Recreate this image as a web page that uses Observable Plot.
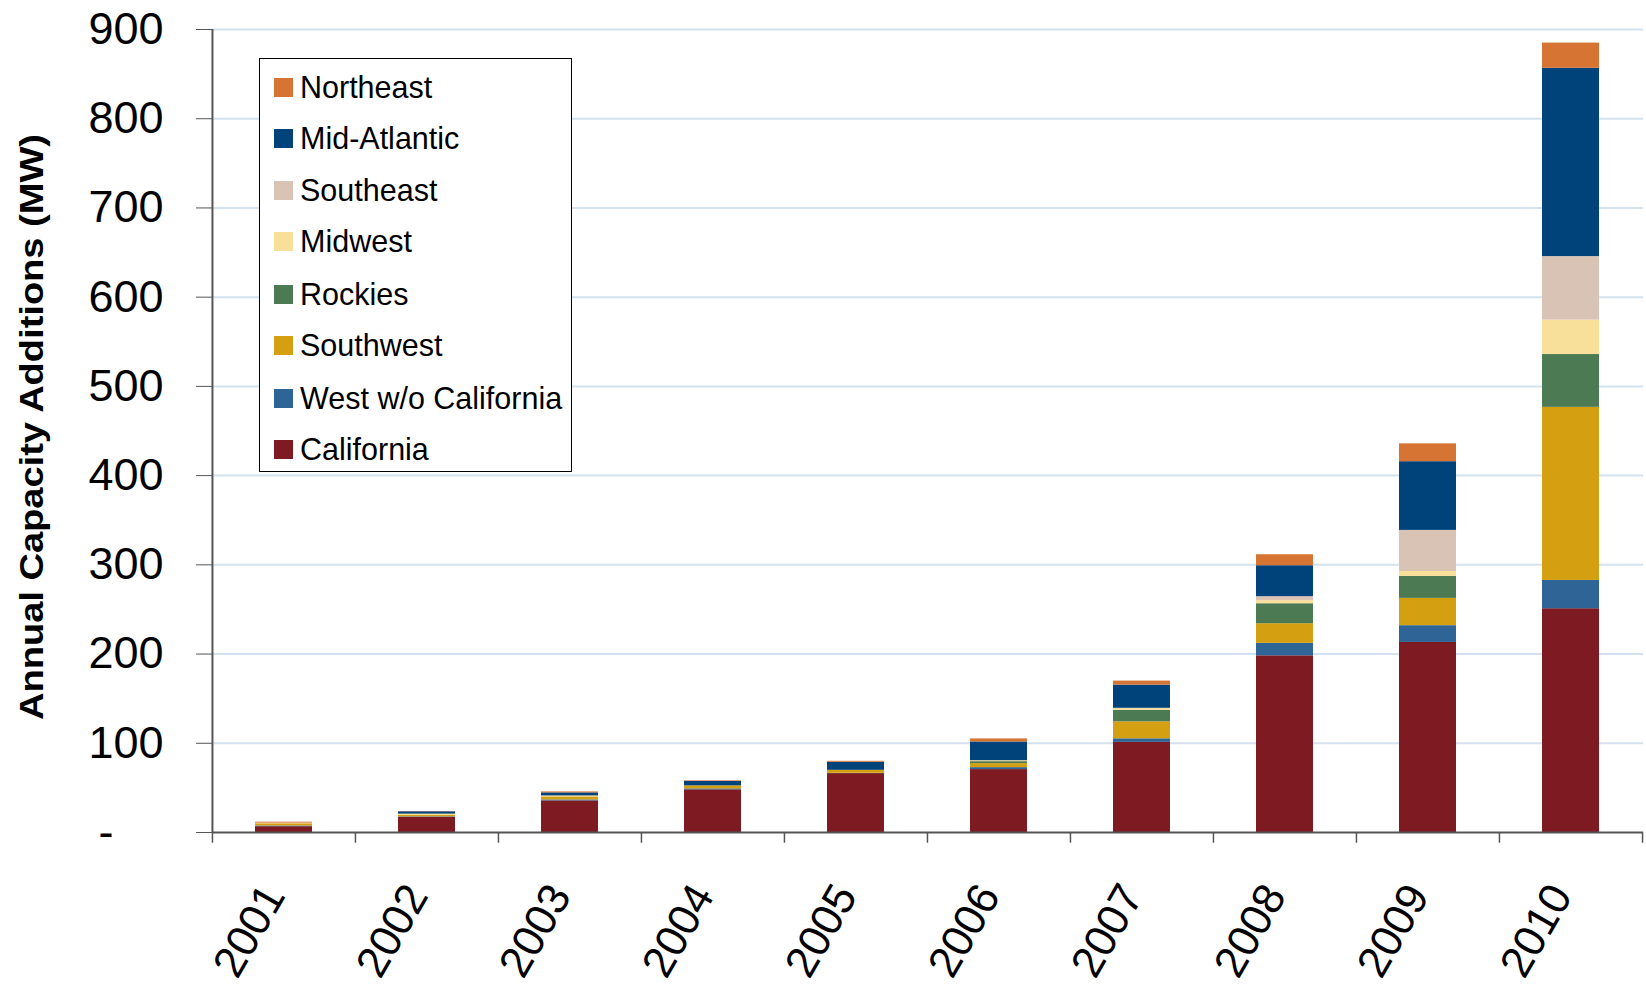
<!DOCTYPE html>
<html><head><meta charset="utf-8">
<script src="https://cdn.jsdelivr.net/npm/d3@7"></script>
<script src="https://cdn.jsdelivr.net/npm/@observablehq/plot@0.6"></script>
<style>
body{margin:0;background:#fff;font-family:"Liberation Sans",Arial,sans-serif;}
#wrap{position:relative;width:1646px;height:984px;overflow:hidden;}
#legend{position:absolute;left:259px;top:58px;width:313px;height:414px;border:1.5px solid #000;background:#fff;box-sizing:border-box;}
.item{position:absolute;left:14px;height:30px;line-height:30px;display:flex;align-items:center;font-size:30.5px;color:#000;white-space:nowrap;}
.sw{width:19px;height:19px;margin-right:7px;flex:none;}
</style></head><body><div id="wrap"></div>
<script>
const years = ["2001","2002","2003","2004","2005","2006","2007","2008","2009","2010"];
const regions = ["California","West w/o California","Southwest","Rockies","Midwest","Southeast","Mid-Atlantic","Northeast"];
const colors = ["#7D1A22","#2E6596","#D4A012","#4C7A52","#F9E09A","#D9C3B5","#00427A","#D57433"];
const california  = [6.5,16.8,35.4,47.8,66,70.5,101,198,213,250.8];
const westNoCA    = [0.8,0.7,1.1,1.1,0.3,2.2,4,14,18.8,31.7];
const southwest   = [2.5,2,3.4,3.4,3.4,4.5,19,22,30.6,194];
const rockies     = [0,0,0,0,0,2.2,13,22.4,24.6,59.2];
const midwest     = [0.5,1.1,1.1,0,0,1.1,2.2,3.4,5.6,38.6];
const southeast   = [0.3,0,0,0,0,0,0,4.5,46,71.2];
const midAtlantic = [0,2.6,3.4,4.9,9,21,26,34.7,77,211];
const northeast   = [1,0.3,1.1,0.7,1.1,3.4,4.5,12.3,20,28.3];
const yTicks = [0,100,200,300,400,500,600,700,800,900];
const yTitle = "Annual Capacity Additions (MW)";

const series = [california,westNoCA,southwest,rockies,midwest,southeast,midAtlantic,northeast];
const data = [];
regions.forEach((r,i)=>years.forEach((y,j)=>data.push({region:r,year:y,value:series[i][j]})));

const W=1646,H=984,mL=212,mR=3,mT=29,mB=152;
const step=(W-mL-mR)/years.length;
const font="Liberation Sans, Arial, sans-serif";

const svg = Plot.plot({
  width:W,height:H,marginLeft:mL,marginRight:mR,marginTop:mT,marginBottom:mB,
  style:{fontFamily:font,background:"#fff",color:"#000"},
  x:{domain:years,paddingInner:0.6,paddingOuter:0.3,label:null},
  y:{domain:[0,900],label:null},
  color:{domain:regions,range:colors},
  marks:[
    Plot.gridY(yTicks.filter(d=>d>0),{stroke:"#D3E2EE",strokeOpacity:1,strokeWidth:2}),
    Plot.barY(data,{x:"year",y:"value",fill:"region",order:regions}),
    Plot.ruleY([0],{stroke:"#555",strokeWidth:2}),
    Plot.ruleX([years[0]],{y1:0,y2:900,dx:-step/2,stroke:"#555",strokeWidth:2}),
    Plot.ruleX(years,{y1:0,y2:-12,dx:-step/2,stroke:"#555",strokeWidth:1.5}),
    Plot.ruleX([years[years.length-1]],{y1:0,y2:-12,dx:step/2,stroke:"#555",strokeWidth:1.5}),
    Plot.axisY({ticks:yTicks,tickSize:16,tickPadding:33,fontSize:45,stroke:"#555",
      tickFormat:d=>d===0?"-\u2007\u2007":String(d)}),
    Plot.axisX({tickSize:0,tickPadding:56,dx:-10,tickRotate:-60,fontSize:44})
  ]
});

d3.select(svg).append("text")
  .attr("transform","translate(31,427) rotate(-90)")
  .attr("text-anchor","middle").attr("dominant-baseline","central")
  .attr("font-family",font).attr("font-weight","bold").attr("font-size",34)
  .attr("textLength",586).attr("lengthAdjust","spacingAndGlyphs")
  .attr("fill","#000").text(yTitle);

const wrap=document.getElementById("wrap");
wrap.appendChild(svg);
const legend=document.createElement("div");
legend.id="legend";
const centers=[28,79,131,182,235,286,339,390];
regions.slice().reverse().forEach((r,i)=>{
  const it=document.createElement("div");
  it.className="item";
  it.style.top=(centers[i]-15)+"px";
  const sw=document.createElement("span");
  sw.className="sw";
  sw.style.background=colors[regions.length-1-i];
  it.appendChild(sw);
  it.appendChild(document.createTextNode(r));
  legend.appendChild(it);
});
wrap.appendChild(legend);
</script></body></html>
